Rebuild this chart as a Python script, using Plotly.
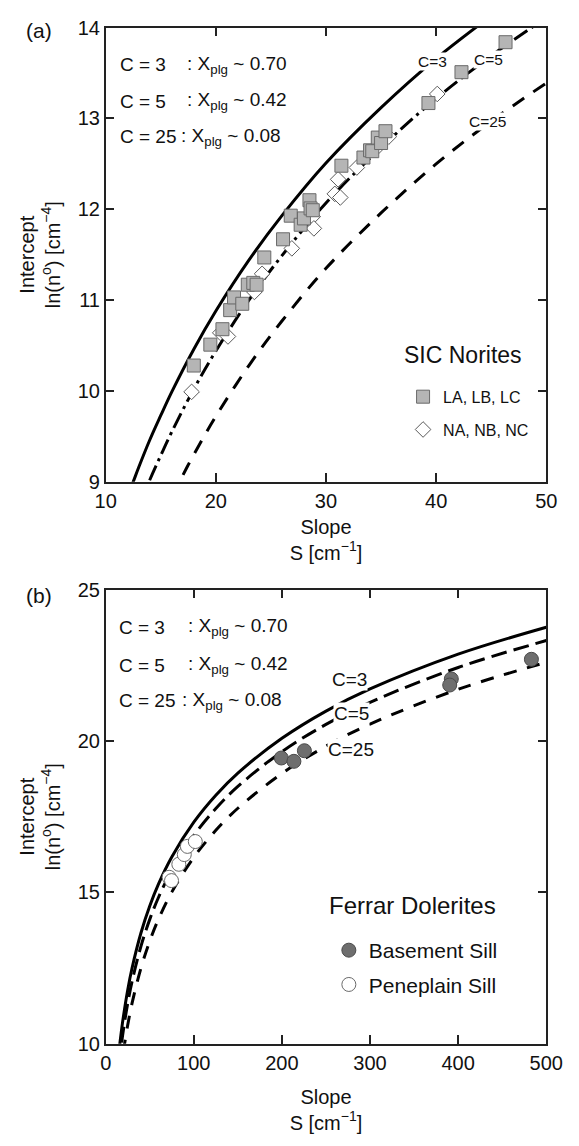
import plotly.graph_objects as go

# ---------------- Panel (a): SIC Norites ----------------
a_sq_S = [18.0, 19.5, 20.6, 21.3, 21.65, 22.4, 22.9, 23.4, 23.7, 24.4, 26.1, 26.8, 27.7,
          28.0, 28.5, 28.6, 28.8, 31.4, 33.4, 34.0, 34.2, 34.7, 35.0, 35.4, 39.3, 42.3, 46.3]
a_sq_n = [10.28, 10.51, 10.68, 10.89, 11.03, 10.96, 11.17, 11.19, 11.17, 11.47, 11.67, 11.93, 11.83,
          11.90, 12.10, 12.01, 11.99, 12.48, 12.57, 12.65, 12.64, 12.79, 12.73, 12.86, 13.17, 13.51, 13.84]
a_di_S = [17.8, 20.4, 21.1, 23.5, 24.2, 26.9, 28.8, 28.9, 30.8, 31.1, 31.3, 32.8, 34.8, 35.7, 40.1]
a_di_n = [9.99, 10.64, 10.60, 11.09, 11.29, 11.57, 11.92, 11.79, 12.17, 12.33, 12.13, 12.46, 12.70, 12.80, 13.27]

a_c3_S = [12.0, 12.5, 13, 14, 15, 16, 18, 20, 23, 26, 30, 35, 40, 45]
a_c3_n = [8.84, 9.00, 9.16, 9.46, 9.73, 9.99, 10.46, 10.88, 11.44, 11.93, 12.51, 13.12, 13.66, 14.13]
a_c5_S = [13, 14, 15, 16, 18, 20, 23, 26, 30, 35, 40, 45, 50]
a_c5_n = [8.72, 9.02, 9.29, 9.55, 10.02, 10.44, 11.00, 11.49, 12.07, 12.68, 13.22, 13.69, 14.11]
a_c25_S = [16, 17, 18, 20, 23, 26, 30, 35, 40, 45, 50]
a_c25_n = [8.83, 9.07, 9.30, 9.72, 10.28, 10.77, 11.35, 11.96, 12.50, 12.97, 13.39]

# ---------------- Panel (b): Ferrar Dolerites ----------------
b_bas_S = [199.3, 213.6, 225.5, 392.2, 390.4, 483.1]
b_bas_n = [19.44, 19.33, 19.68, 22.05, 21.85, 22.70]
b_pen_S = [72.0, 74.7, 83.0, 89.2, 92.7, 101.7]
b_pen_n = [15.50, 15.39, 15.93, 16.25, 16.52, 16.68]

b_c3_S = [15, 17, 20, 25, 30, 40, 50, 60, 75, 100, 125, 150, 200, 250, 300, 400, 500]
b_c3_n = [9.73, 10.23, 10.88, 11.78, 12.51, 13.66, 14.55, 15.28, 16.17, 17.32, 18.21, 18.94,
          20.09, 20.99, 21.72, 22.87, 23.76]
b_c5_S = [15, 17, 20, 25, 30, 40, 50, 60, 75, 100, 125, 150, 200, 250, 300, 400, 500]
b_c5_n = [9.29, 9.79, 10.44, 11.34, 12.07, 13.22, 14.11, 14.84, 15.73, 16.88, 17.77, 18.50,
          19.65, 20.55, 21.28, 22.43, 23.32]
b_c25_S = [20, 21.5, 25, 30, 40, 50, 60, 75, 100, 125, 150, 200, 250, 300, 400, 500]
b_c25_n = [9.72, 10.01, 10.62, 11.35, 12.50, 13.39, 14.12, 15.01, 16.16, 17.05, 17.78, 18.93,
           19.83, 20.56, 21.71, 22.60]

a_xticks = [10, 20, 30, 40, 50]
a_yticks = [9, 10, 11, 12, 13, 14]
b_xticks = [0, 100, 200, 300, 400, 500]
b_yticks = [10, 15, 20, 25]

FONT = "Liberation Sans, Arial, Helvetica, sans-serif"
W, H = 579, 1146

fig = go.Figure()

def curve(x, y, dash, xa, ya):
    fig.add_trace(go.Scatter(x=x, y=y, mode="lines", xaxis=xa, yaxis=ya, showlegend=False,
                             line=dict(color="black", width=3, dash=dash, shape="spline"),
                             hoverinfo="skip"))

curve(a_c3_S, a_c3_n, "solid", "x", "y")
curve(a_c5_S, a_c5_n, "16px,5px,3px,5px", "x", "y")
curve(a_c25_S, a_c25_n, "14px,11px", "x", "y")
curve(b_c3_S, b_c3_n, "solid", "x2", "y2")
curve(b_c5_S, b_c5_n, "16px,7px", "x2", "y2")
curve(b_c25_S, b_c25_n, "13px,11px", "x2", "y2")

fig.add_trace(go.Scatter(x=a_di_S, y=a_di_n, mode="markers", name="NA, NB, NC", xaxis="x", yaxis="y",
                         legend="legend", legendgroup="a2", legendrank=2,
                         marker=dict(symbol="diamond", size=12, color="white",
                                     line=dict(color="#5a5a5a", width=1))))
fig.add_trace(go.Scatter(x=a_sq_S, y=a_sq_n, mode="markers", name="LA, LB, LC", xaxis="x", yaxis="y",
                         legend="legend", legendgroup="a1", legendrank=1,
                         marker=dict(symbol="square", size=13, color="#b5b5b5",
                                     line=dict(color="#6a6a6a", width=1))))
fig.add_trace(go.Scatter(x=b_bas_S, y=b_bas_n, mode="markers", name="Basement Sill", xaxis="x2", yaxis="y2",
                         legend="legend2", legendgroup="b1", legendrank=1,
                         marker=dict(symbol="circle", size=14, color="#6e6e6e",
                                     line=dict(color="#4a4a4a", width=1))))
fig.add_trace(go.Scatter(x=b_pen_S, y=b_pen_n, mode="markers", name="Peneplain Sill", xaxis="x2", yaxis="y2",
                         legend="legend2", legendgroup="b2", legendrank=2,
                         marker=dict(symbol="circle", size=14, color="white",
                                     line=dict(color="#6a6a6a", width=1))))

def px_x(p):
    return p / W

def px_y(p):
    return 1 - p / H

axis_common = dict(showline=True, linecolor="#222", linewidth=1.5, mirror="ticks", ticks="inside",
                   ticklen=9, tickwidth=1.5, tickcolor="#222", showgrid=False, zeroline=False,
                   tickfont=dict(family=FONT, size=20, color="#111"),
                   title_font=dict(family=FONT, size=20, color="#111"))

xdom = [px_x(99.5), px_x(562.5)]
fig.update_layout(
    width=W, height=H, margin=dict(l=0, r=0, t=0, b=0),
    paper_bgcolor="white", plot_bgcolor="white",
    font=dict(family=FONT, color="#111"),
    xaxis=dict(domain=xdom, range=[10, 50], tickvals=a_xticks, anchor="y",
               title=dict(text="Slope<br>S [cm<sup>−1</sup>]", standoff=9), **axis_common),
    yaxis=dict(domain=[px_y(480), px_y(17)], range=[9, 14], tickvals=a_yticks, anchor="x",
               title=dict(text="Intercept<br>ln(n<sup>o</sup>) [cm<sup>−4</sup>]", standoff=12), **axis_common),
    xaxis2=dict(domain=xdom, range=[0, 500], tickvals=b_xticks, anchor="y2",
                title=dict(text="Slope<br>S [cm<sup>−1</sup>]", standoff=17), **axis_common),
    yaxis2=dict(domain=[px_y(1053), px_y(590)], range=[10, 25], tickvals=b_yticks, anchor="x2",
                title=dict(text="Intercept<br>ln(n<sup>o</sup>) [cm<sup>−4</sup>]", standoff=12), **axis_common),
    legend=dict(x=px_x(412), y=px_y(376), xanchor="left", yanchor="top",
                bgcolor="rgba(0,0,0,0)", traceorder="grouped", tracegroupgap=9,
                font=dict(family=FONT, size=16, color="#111")),
    legend2=dict(x=px_x(334), y=px_y(937), xanchor="left", yanchor="top",
                 bgcolor="rgba(0,0,0,0)", traceorder="grouped", tracegroupgap=4,
                 font=dict(family=FONT, size=21, color="#111")),
)

ann = []
def add_text(text, x, y, xref, yref, size, xanchor="left", bg=None):
    d = dict(text=text, x=x, y=y, xref=xref, yref=yref, showarrow=False,
             xanchor=xanchor, yanchor="middle",
             font=dict(family=FONT, size=size, color="#111"))
    if bg:
        d["bgcolor"] = bg
        d["borderpad"] = 0
    ann.append(d)

add_text("(a)", px_x(14), px_y(20), "paper", "paper", 21)
add_text("(b)", px_x(14), px_y(596), "paper", "paper", 21)

# legend titles
add_text("SIC Norites", px_x(475), px_y(351), "paper", "paper", 23, "center")
add_text("Ferrar Dolerites", px_x(421.5), px_y(912), "paper", "paper", 24, "center")

# panel (a) equation block
add_text("C = 3", 11.08, 13.59, "x", "y", 19)
add_text("C = 5", 11.08, 13.19, "x", "y", 19)
add_text("C = 25", 11.08, 12.80, "x", "y", 19)
add_text(": X<sub>plg</sub> ~ 0.70", 17.19, 13.59, "x", "y", 19)
add_text(": X<sub>plg</sub> ~ 0.42", 17.19, 13.19, "x", "y", 19)
add_text(": X<sub>plg</sub> ~ 0.08", 16.65, 12.80, "x", "y", 19)
add_text("C=3", 39.7, 13.63, "x", "y", 15.5, "center", "white")
add_text("C=5", 44.75, 13.65, "x", "y", 15.5, "center", "white")
add_text("C=25", 44.75, 12.97, "x", "y", 15.5, "center", "white")

# panel (b) equation block
add_text("C = 3", 13.4, 23.76, "x2", "y2", 19)
add_text("C = 5", 13.4, 22.51, "x2", "y2", 19)
add_text("C = 25", 13.4, 21.33, "x2", "y2", 19)
add_text(": X<sub>plg</sub> ~ 0.70", 91.0, 23.76, "x2", "y2", 19)
add_text(": X<sub>plg</sub> ~ 0.42", 91.0, 22.51, "x2", "y2", 19)
add_text(": X<sub>plg</sub> ~ 0.08", 84.0, 21.33, "x2", "y2", 19)
add_text("C=3", 276.7, 22.03, "x2", "y2", 19, "center", "white")
add_text("C=5", 278.6, 20.92, "x2", "y2", 19, "center", "white")
add_text("C=25", 278.6, 19.71, "x2", "y2", 19, "center", "white")

fig.update_layout(annotations=ann)
fig.write_html("out.html")
